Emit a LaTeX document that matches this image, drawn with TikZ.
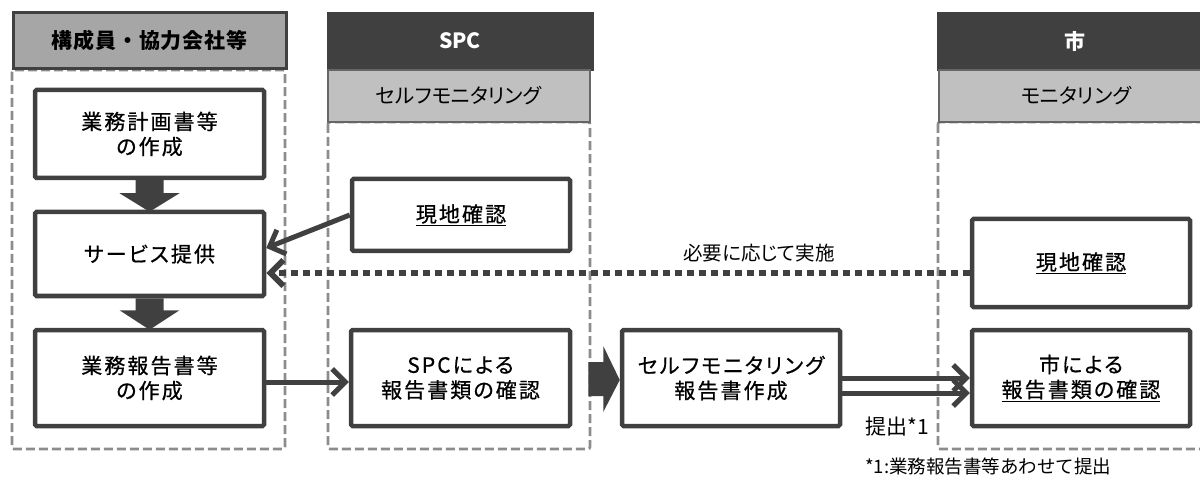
\documentclass[tikz,border=0pt]{standalone}
\usepackage{fontspec}
\setmainfont{Noto Sans CJK JP}
\newfontfamily\boxfont{Noto Sans CJK JP}[LetterSpace=10,RawFeature={+palt},FakeBold=0.6]
\newfontfamily\subfont{Noto Sans CJK JP}[RawFeature={+palt}]
\newfontfamily\notefont{Noto Sans CJK JP}
\usetikzlibrary{arrows.meta,calc}
\definecolor{dk}{HTML}{404040}
\definecolor{midgray}{HTML}{A6A6A6}
\definecolor{lightgray}{HTML}{C0C0C0}
\definecolor{dashgray}{HTML}{8C8C8C}
\tikzset{
  stepbox/.style={draw=dk, line width=4.5pt, rounded corners=1.5pt, fill=white,
    inner sep=0pt, align=center, text=black,
    font=\boxfont\fontsize{21}{25}\selectfont},
  darkhead/.style={fill=dk, draw=dk, inner sep=0pt, text=white,
    font=\bfseries\fontsize{21}{25}\selectfont},
  subhead/.style={fill=lightgray, draw=dk!80, line width=1.5pt, inner sep=0pt,
    text=black, font=\subfont\fontsize{20.5}{24}\selectfont},
  lane/.style={draw=dashgray, line width=2.6pt, dash pattern=on 9pt off 4pt, rounded corners=2pt},
  conn/.style={draw=dk, line width=5pt, -{Straight Barb[length=13pt,width=26pt]}},
  dotconn/.style={draw=dk, line width=6pt, dash pattern=on 7pt off 5pt,
    -{Straight Barb[length=13pt,width=26pt]}},
  blockarrow/.style={fill=dk},
  lbl/.style={inner sep=0pt, text=black, font=\subfont\fontsize{19.5}{23}\selectfont}
}
\begin{document}
\begin{tikzpicture}[x=1pt,y=-1pt]
\useasboundingbox (0,0) rectangle (1200,481);

% lanes
\draw[lane] (12,70) rectangle (285,449);
\draw[lane] (328,122) rectangle (590,449);
\draw[lane] (938,122) rectangle (1215,449);

% headers
\node[fill=midgray, draw=dk, line width=3pt, inner sep=0pt, minimum width=273pt, minimum height=56pt,
  font=\bfseries\fontsize{21}{25}\selectfont\addfontfeature{LetterSpace=4}] (h1) at (149.5,41) {構成員・協力会社等};
\node[darkhead, minimum width=266pt, minimum height=58pt] (h2) at (460,41) {SPC};
\node[subhead, minimum width=262pt, minimum height=52pt] (sh2) at (459,96) {セルフモニタリング};
\node[darkhead, minimum width=276pt, minimum height=58pt] (h3) at (1075,41) {市};
\node[subhead, minimum width=274pt, minimum height=52pt] (sh3) at (1076,96) {モニタリング};

% boxes
\node[stepbox, minimum width=229pt, minimum height=88pt] (b1) at (149.5,134) {業務計画書等\\の作成};
\node[stepbox, minimum width=229pt, minimum height=84pt] (b2) at (149.5,254) {サービス提供};
\node[stepbox, minimum width=229pt, minimum height=96pt] (b3) at (149.5,378) {業務報告書等\\の作成};
\node[stepbox, minimum width=218pt, minimum height=72pt] (s1) at (461,215) {\underline{現地確認}};
\node[stepbox, minimum width=219pt, minimum height=96pt] (s2) at (460.5,378) {SPCによる\\報告書類の確認};
\node[stepbox, minimum width=218pt, minimum height=96pt] (m) at (731,378) {セルフモニタリング\\報告書作成};
\node[stepbox, minimum width=218pt, minimum height=88pt] (c1) at (1081,263) {\underline{現地確認}};
\node[stepbox, minimum width=218pt, minimum height=96pt] (c2) at (1081,378) {市による\\\underline{報告書類の確認}};

% block arrows down
\fill[blockarrow] ($(b1.south)+(-14,0)$) -- ++(28,0) -- ++(0,13) -- ++(16,0)
  -- ($(b2.north)+(0,2)$) -- ($(b1.south)+(-30,13)$) -- ++(16,0) -- cycle;
\fill[blockarrow] ($(b2.south)+(-14,0)$) -- ++(28,0) -- ++(0,12) -- ++(16,0)
  -- ($(b3.north)+(0,2)$) -- ($(b2.south)+(-30,12)$) -- ++(16,0) -- cycle;
% block arrow right
\fill[blockarrow] ($(s2.east)+(16,-16)$) -- ++(15,0) -- ++(0,-16)
  -- ($(m.west)+(0,2)$) -- ($(s2.east)+(31,34)$) -- ++(0,-16) -- ++(-15,0) -- cycle;

% connectors
\draw[conn] (s1.west) -- ([yshift=6pt]b2.east);
\coordinate (dstart) at ([yshift=-10pt]c1.west);
\draw[dotconn] (dstart) -- (b2.east |- dstart);
\draw[conn] ([yshift=-4pt]b3.east) -- ([yshift=-4pt]s2.west);
\draw[conn] (m.east) -- (c2.west);
\draw[conn] ([yshift=-15pt]m.east) -- ([yshift=-15pt]c2.west);

% labels
\node[lbl] (l1) at (759,253) {必要に応じて実施};
\node[lbl, anchor=west, font=\notefont\fontsize{21}{24}\selectfont] (l2) at (865,427) {提出*1};
\node[lbl, anchor=west, font=\notefont\fontsize{18.5}{21}\selectfont] (l3) at (865,467) {*1:業務報告書等あわせて提出};
\end{tikzpicture}
\end{document}
